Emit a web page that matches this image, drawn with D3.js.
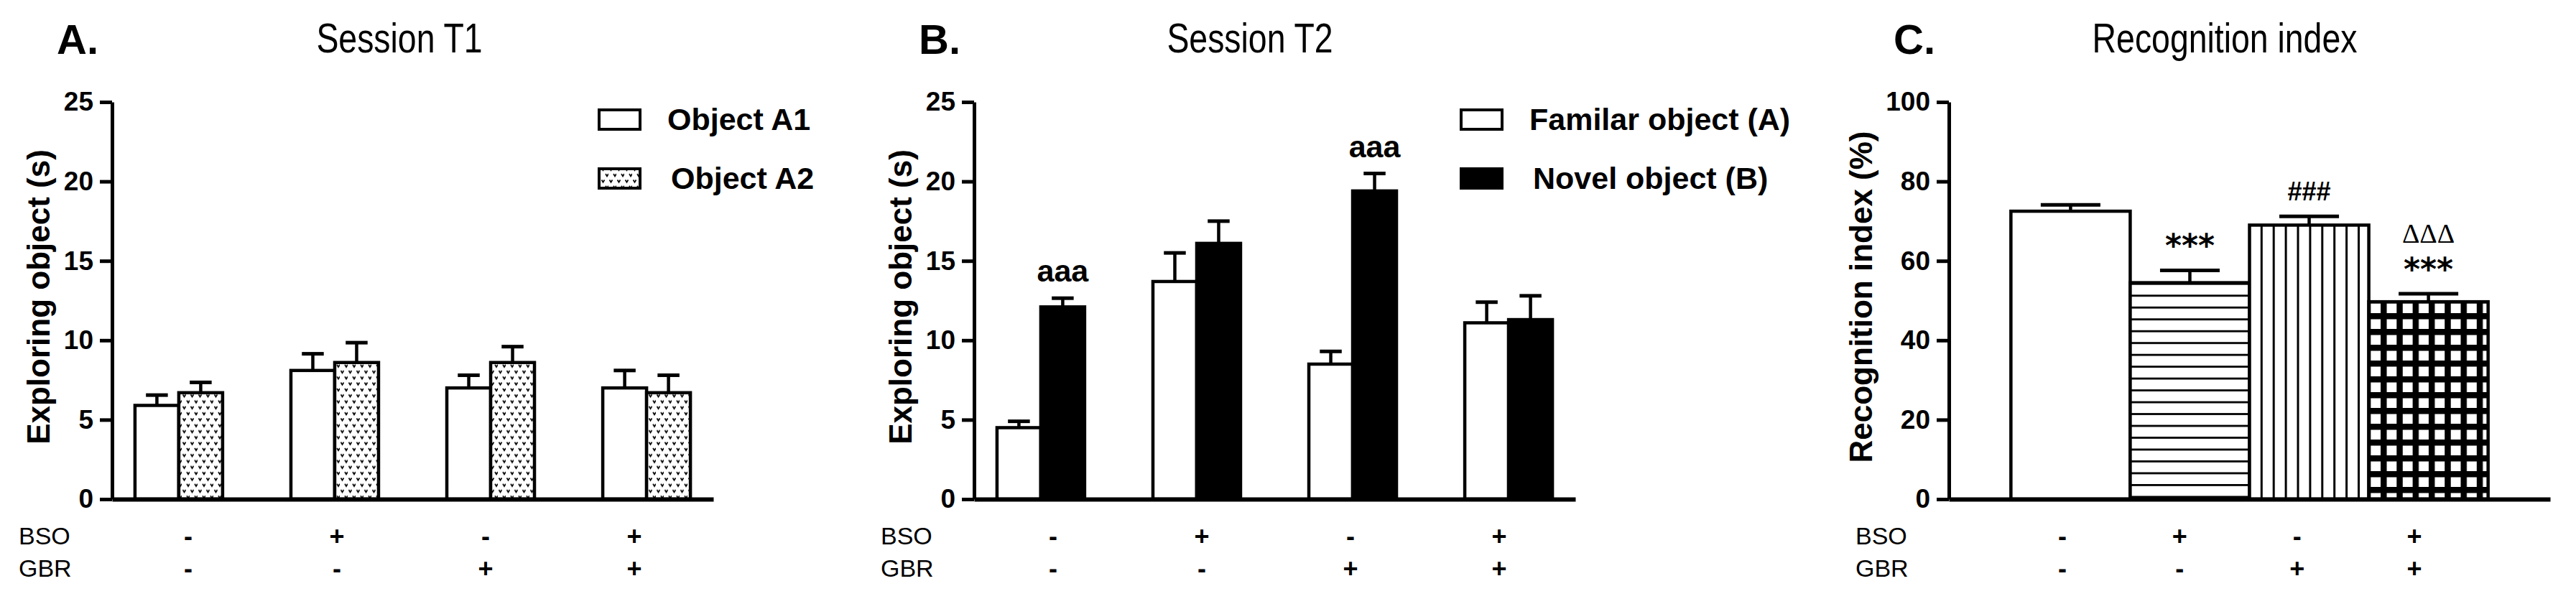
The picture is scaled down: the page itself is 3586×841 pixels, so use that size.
<!DOCTYPE html>
<html>
<head>
<meta charset="utf-8">
<script src="https://cdn.jsdelivr.net/npm/d3@7"></script>
<style>
  body { margin: 0; background: #fff; }
  text { font-family: "Liberation Sans", Arial, sans-serif; fill: #000; }
</style>
</head>
<body>
<div class="chart"></div>
<script>
// Data
const groups = ['g1', 'g2', 'g3', 'g4'];
const bsoSigns = ['-', '+', '-', '+'];
const gbrSigns = ['-', '-', '+', '+'];

const t1Labels = ['Object A1', 'Object A2'];
const t1A1 = [5.9, 8.1, 7.0, 7.0];
const t1A1Sem = [0.65, 1.05, 0.8, 1.1];
const t1A2 = [6.7, 8.6, 8.6, 6.7];
const t1A2Sem = [0.65, 1.25, 1.0, 1.1];

const t2Labels = ['Familar object (A)', 'Novel object (B)'];
const t2Fam = [4.5, 13.7, 8.5, 11.1];
const t2FamSem = [0.4, 1.8, 0.8, 1.3];
const t2Nov = [12.1, 16.1, 19.4, 11.3];
const t2NovSem = [0.55, 1.4, 1.1, 1.5];
const t2NovMarks = ['aaa', '', 'aaa', ''];

const riMeans = [72.5, 54.5, 69.0, 49.7];
const riSem = [1.6, 3.1, 2.2, 2.0];
const riMarks = ['', '***', '###', '***'];
const riMarksTop = ['', '', '', 'ΔΔΔ'];

const timeTicks = [0, 5, 10, 15, 20, 25];
const riTicks = [0, 20, 40, 60, 80, 100];

// Dimensions
const dimensions = {
    width: 3586,
    height: 841,
    top: 142,
    bottom: 695,
    bsoY: 746,
    gbrY: 791,
    titleY: 73
};

const svg = d3.select('.chart')
    .append('svg')
    .attr('width', dimensions.width)
    .attr('height', dimensions.height);

// Patterns
const defs = svg.append('defs');

const dots = defs.append('pattern')
    .attr('id', 'dots')
    .attr('patternUnits', 'userSpaceOnUse')
    .attr('width', 11).attr('height', 16.6);
dots.append('rect').attr('width', 11).attr('height', 16.6).attr('fill', '#fff');
dots.selectAll('path')
    .data([[1.5, 1.5], [7, 9.8]])
    .join('path')
    .attr('d', d => `M${d[0]},${d[1]} l2,3.2 l2,-3.2`)
    .attr('fill', 'none')
    .attr('stroke', '#000')
    .attr('stroke-width', 1.7);

const hlines = defs.append('pattern')
    .attr('id', 'hlines')
    .attr('patternUnits', 'userSpaceOnUse')
    .attr('y', 674)
    .attr('width', 10).attr('height', 16.48);
hlines.append('rect').attr('width', 10).attr('height', 16.48).attr('fill', '#fff');
hlines.append('rect').attr('width', 10).attr('height', 2.8).attr('fill', '#000');

const vlines = defs.append('pattern')
    .attr('id', 'vlines')
    .attr('patternUnits', 'userSpaceOnUse')
    .attr('x', 3146.8)
    .attr('width', 16.9).attr('height', 10);
vlines.append('rect').attr('width', 16.9).attr('height', 10).attr('fill', '#fff');
vlines.append('rect').attr('width', 3).attr('height', 10).attr('fill', '#000');

const grid = defs.append('pattern')
    .attr('id', 'grid')
    .attr('patternUnits', 'userSpaceOnUse')
    .attr('x', 3314).attr('y', 436)
    .attr('width', 22.3).attr('height', 22);
grid.append('rect').attr('width', 22.3).attr('height', 22).attr('fill', '#000');
grid.append('rect').attr('x', 8.5).attr('y', 8.5).attr('width', 13.8).attr('height', 13.5).attr('fill', '#fff');

// Shared pieces
function drawFrame(p) {
    const yScale = d3.scaleLinear()
        .domain([0, d3.max(p.ticks)])
        .range([dimensions.bottom, dimensions.top]);

    const yAxis = d3.axisLeft(yScale)
        .tickValues(p.ticks)
        .tickSize(17)
        .tickSizeOuter(0)
        .tickPadding(9);

    const yAxisGroup = svg.append('g')
        .attr('transform', `translate(${p.axisX}, 0)`)
        .call(yAxis);
    yAxisGroup.select('.domain').attr('stroke-width', 5);
    yAxisGroup.selectAll('.tick line').attr('stroke-width', 5);
    yAxisGroup.selectAll('.tick text')
        .attr('font-family', null).attr('font-size', null)
        .style('font-size', '37px')
        .style('font-weight', 'bold');

    svg.append('text')
        .attr('transform', `translate(${p.axisX + p.yLabelDx}, ${(dimensions.top + dimensions.bottom) / 2 - 5}) rotate(-90)`)
        .attr('text-anchor', 'middle')
        .style('font-size', '44px')
        .style('font-weight', 'bold')
        .text(p.yLabel);

    svg.append('text')
        .attr('x', p.axisX - 77)
        .attr('y', dimensions.titleY + 2)
        .style('font-size', '58px')
        .style('font-weight', 'bold')
        .text(p.letter);

    // condensed title, like the original narrow face
    svg.append('text')
        .attr('transform', `translate(${p.axisX + p.titleDx}, ${dimensions.titleY}) scale(0.8, 1)`)
        .attr('text-anchor', 'middle')
        .style('font-size', '58px')
        .text(p.title);

    // BSO / GBR table
    const signScale = d3.scalePoint()
        .domain(groups)
        .range([p.axisX + p.signRange[0], p.axisX + p.signRange[1]]);

    const rows = [['BSO', bsoSigns, dimensions.bsoY], ['GBR', gbrSigns, dimensions.gbrY]];
    rows.forEach(([name, signs, y]) => {
        svg.append('text')
            .attr('x', p.axisX - 130)
            .attr('y', y)
            .attr('dominant-baseline', 'central')
            .style('font-size', '34px')
            .text(name);
        svg.selectAll(null)
            .data(groups)
            .join('text')
            .attr('x', d => signScale(d))
            .attr('y', y)
            .attr('text-anchor', 'middle')
            .attr('dominant-baseline', 'central')
            .style('font-size', '36px')
            .style('font-weight', 'bold')
            .text((d, i) => signs[i]);
    });

    return yScale;
}

function drawXAxis(xScale) {
    const xAxisGroup = svg.append('g')
        .attr('transform', `translate(0, ${dimensions.bottom})`)
        .call(d3.axisBottom(xScale).tickSize(0).tickSizeOuter(0).tickFormat(''));
    xAxisGroup.select('.domain').attr('stroke-width', 6);
}

function drawErrors(rows, yScale) {
    const g = svg.append('g').attr('stroke', '#000');
    g.selectAll('line.v')
        .data(rows)
        .join('line')
        .attr('class', 'v')
        .attr('x1', d => d.x + d.w / 2).attr('x2', d => d.x + d.w / 2)
        .attr('y1', d => yScale(d.mean)).attr('y2', d => yScale(d.mean + d.sem))
        .attr('stroke-width', 4.5);
    g.selectAll('line.cap')
        .data(rows)
        .join('line')
        .attr('class', 'cap')
        .attr('x1', d => d.x + d.w / 4).attr('x2', d => d.x + d.w * 3 / 4)
        .attr('y1', d => yScale(d.mean + d.sem)).attr('y2', d => yScale(d.mean + d.sem))
        .attr('stroke-width', 5);
}

function drawBars(rows, yScale) {
    svg.append('g')
        .selectAll('rect')
        .data(rows)
        .join('rect')
        .attr('x', d => d.x)
        .attr('y', d => yScale(d.mean))
        .attr('width', d => d.w)
        .attr('height', d => yScale(0) - yScale(d.mean))
        .attr('fill', d => d.fill)
        .attr('stroke', '#000')
        .attr('stroke-width', 4.5);
}

function drawLegend(p, labels, fills) {
    const legend = svg.append('g');
    labels.forEach((label, i) => {
        const y = 166 + i * 82;
        legend.append('rect')
            .attr('x', p.axisX + 678)
            .attr('y', y - 13)
            .attr('width', 57)
            .attr('height', 27)
            .attr('fill', fills[i])
            .attr('stroke', '#000')
            .attr('stroke-width', 4);
        legend.append('text')
            .attr('x', p.axisX + 773 + i * 5)
            .attr('y', y)
            .attr('dominant-baseline', 'central')
            .style('font-size', '43px')
            .style('font-weight', 'bold')
            .text(label);
    });
}

// Grouped panels (A and B)
function drawGrouped(p) {
    const yScale = drawFrame(p);

    const xScale = d3.scaleBand()
        .domain(groups)
        .range([p.axisX, p.axisX + 837])
        .paddingInner(0.438)
        .paddingOuter(0.147);

    const subScale = d3.scaleBand()
        .domain([0, 1])
        .range([0, xScale.bandwidth()]);

    const rows = [];
    p.series.forEach((s, si) => {
        groups.forEach((g, gi) => {
            rows.push({
                x: xScale(g) + subScale(si),
                w: subScale.bandwidth(),
                mean: s.means[gi],
                sem: s.sems[gi],
                fill: s.fill,
                mark: s.marks ? s.marks[gi] : ''
            });
        });
    });

    drawErrors(rows, yScale);
    drawBars(rows, yScale);
    drawXAxis(xScale);

    svg.append('g')
        .selectAll('text')
        .data(rows.filter(d => d.mark))
        .join('text')
        .attr('x', d => d.x + d.w / 2)
        .attr('y', d => yScale(d.mean + d.sem) - 38)
        .attr('text-anchor', 'middle')
        .attr('dominant-baseline', 'central')
        .style('font-size', '43px')
        .style('font-weight', 'bold')
        .text(d => d.mark);

    drawLegend(p, p.series.map(s => s.label), p.series.map(s => s.fill));
}

drawGrouped({
    axisX: 156,
    letter: 'A.',
    title: 'Session T1',
    titleDx: 400,
    yLabel: 'Exploring object (s)',
    yLabelDx: -87,
    ticks: timeTicks,
    signRange: [106, 727],
    series: [
        { label: t1Labels[0], means: t1A1, sems: t1A1Sem, fill: '#fff' },
        { label: t1Labels[1], means: t1A2, sems: t1A2Sem, fill: 'url(#dots)' }
    ]
});

drawGrouped({
    axisX: 1356,
    letter: 'B.',
    title: 'Session T2',
    titleDx: 384,
    yLabel: 'Exploring object (s)',
    yLabelDx: -87,
    ticks: timeTicks,
    signRange: [110, 731],
    series: [
        { label: t2Labels[0], means: t2Fam, sems: t2FamSem, fill: '#fff' },
        { label: t2Labels[1], means: t2Nov, sems: t2NovSem, fill: '#000', marks: t2NovMarks }
    ]
});

// Panel C
function drawRecognition() {
    const p = {
        axisX: 2713,
        letter: 'C.',
        title: 'Recognition index',
        titleDx: 384,
        yLabel: 'Recognition index (%)',
        yLabelDx: -107,
        ticks: riTicks,
        signRange: [158, 648]
    };
    const yScale = drawFrame(p);

    const xScale = d3.scaleBand()
        .domain(groups)
        .range([p.axisX, p.axisX + 837])
        .paddingInner(0)
        .paddingOuter(0.52);

    const fills = ['#fff', 'url(#hlines)', 'url(#vlines)', 'url(#grid)'];
    const rows = groups.map((g, i) => ({
        x: xScale(g),
        w: xScale.bandwidth(),
        mean: riMeans[i],
        sem: riSem[i],
        fill: fills[i],
        mark: riMarks[i],
        markTop: riMarksTop[i]
    }));

    drawErrors(rows, yScale);
    drawBars(rows, yScale);
    drawXAxis(xScale);

    const marks = svg.append('g');
    marks.selectAll('text.star')
        .data(rows.filter(d => d.mark))
        .join('text')
        .attr('class', 'star')
        .attr('x', d => d.x + d.w / 2)
        .attr('y', d => yScale(d.mean + d.sem) - 35)
        .attr('text-anchor', 'middle')
        .attr('dominant-baseline', 'central')
        .style('font-family', d => d.mark === '###' ? '"Liberation Sans Narrow", "Liberation Sans", sans-serif' : '"DejaVu Sans", sans-serif')
        .style('font-size', d => d.mark === '###' ? '36px' : '44px')
        .style('font-weight', 'bold')
        .text(d => d.mark);

    marks.selectAll('text.delta')
        .data(rows.filter(d => d.markTop))
        .join('text')
        .attr('class', 'delta')
        .attr('x', d => d.x + d.w / 2)
        .attr('y', d => yScale(d.mean + d.sem) - 84)
        .attr('text-anchor', 'middle')
        .attr('dominant-baseline', 'central')
        .style('font-family', '"Liberation Serif", serif')
        .style('font-size', '38px')
        .text(d => d.markTop);
}

drawRecognition();
</script>
</body>
</html>
